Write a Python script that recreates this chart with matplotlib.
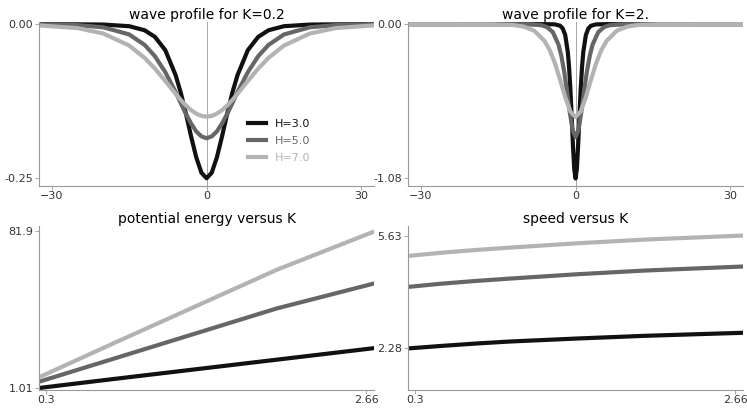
import matplotlib
matplotlib.use("Agg")
import matplotlib.pyplot as plt
import numpy as np

colors = ["#111111", "#666666", "#b3b3b3"]
labels = ["H=3.0", "H=5.0", "H=7.0"]

# K=0.2 half profiles (x>=0), mirrored
xa = [0, 1, 2, 3, 4, 5, 6, 8, 10, 12, 15, 20, 25, 33]
ya_black = [-0.25, -0.241, -0.216, -0.182, -0.145, -0.111, -0.0825, -0.042, -0.0205, -0.0097, -0.0031, -0.00045, -0.0001, 0]
ya_gray = [-0.185, -0.182, -0.174, -0.161, -0.1455, -0.128, -0.110, -0.0777, -0.0519, -0.0335, -0.0165, -0.0049, -0.0014, -0.0002]
ya_light = [-0.15, -0.1488, -0.1451, -0.1394, -0.1317, -0.1228, -0.113, -0.0921, -0.072, -0.0546, -0.0345, -0.015, -0.0062, -0.0015]

# K=2 half profiles
xb_black = [0, .25, .5, .75, 1, 1.25, 1.5, 2, 2.5, 3, 4, 6, 33]
yb_black = [-1.08, -1.015, -0.849, -0.645, -0.454, -0.303, -0.195, -0.076, -0.029, -0.011, -0.0014, 0, 0]
xb_gray = [0, .55, 1.1, 1.65, 2.2, 2.75, 3.3, 4.4, 5.5, 6.6, 8.8, 13.2, 33]
yb_gray = [-0.79, -0.743, -0.621, -0.472, -0.332, -0.222, -0.143, -0.056, -0.021, -0.0078, -0.0011, 0, 0]
xb_light = [0, 1, 2, 3, 4, 5, 6, 8, 10, 12, 16, 24, 33]
yb_light = [-0.65, -0.611, -0.511, -0.388, -0.273, -0.182, -0.118, -0.046, -0.0173, -0.0064, -0.0009, 0, 0]

K_pe = [0.27, 0.8, 1.4, 2.0, 2.72]
pe_black = [1.01, 5.5, 10.5, 15.5, 21.5]
pe_gray = [4.5, 16, 29, 42, 55]
pe_light = [7, 24, 43, 62, 81.9]

K_sp = [0.27, 0.5, 0.75, 1.0, 1.5, 2.0, 2.72]
sp_black = [2.28, 2.35, 2.42, 2.48, 2.57, 2.65, 2.74]
sp_gray = [4.11, 4.20, 4.28, 4.35, 4.48, 4.59, 4.71]
sp_light = [5.03, 5.12, 5.20, 5.27, 5.40, 5.51, 5.63]

def mirror(x, y):
    x = np.asarray(x, float); y = np.asarray(y, float)
    return np.concatenate([-x[::-1], x[1:]]), np.concatenate([y[::-1], y[1:]])

fig, axs = plt.subplots(2, 2, figsize=(7.47, 4.08), dpi=100)
fig.subplots_adjust(left=0.052, right=0.995, top=0.945, bottom=0.045, wspace=0.1, hspace=0.25)

def style(ax):
    for s in ["top", "right"]:
        ax.spines[s].set_visible(False)
    for s in ["left", "bottom"]:
        ax.spines[s].set_color("#999999")
        ax.spines[s].set_linewidth(0.8)
    ax.tick_params(labelsize=8, colors="#333333", length=3, width=0.6, color="#999999", pad=1)

lw = 3
ax = axs[0, 0]
for (y, c, l) in zip([ya_black, ya_gray, ya_light], colors, labels):
    xx, yy = mirror(xa, y)
    ax.plot(xx, yy, color=c, lw=lw, label=l)
ax.axvline(0, color="#999999", lw=0.6, zorder=0)
ax.set_xlim(-32.5, 32.5); ax.set_ylim(-0.262, 0.003)
ax.set_xticks([-30, 0, 30]); ax.set_yticks([-0.25, 0.0]); ax.set_yticklabels(["-0.25", "0.00"])
ax.set_title("wave profile for K=0.2", fontsize=10, pad=2)
leg = ax.legend(loc="lower right", bbox_to_anchor=(0.84, 0.08), frameon=False, fontsize=8, handlelength=1.6, labelspacing=0.6)
for t, c in zip(leg.get_texts(), colors):
    t.set_color(c)
style(ax)

ax = axs[0, 1]
for (x, y, c) in zip([xb_black, xb_gray, xb_light], [yb_black, yb_gray, yb_light], colors):
    xx, yy = mirror(x, y)
    ax.plot(xx, yy, color=c, lw=lw)
ax.axvline(0, color="#999999", lw=0.6, zorder=0)
ax.set_xlim(-32.5, 32.5); ax.set_ylim(-1.13, 0.012)
ax.set_xticks([-30, 0, 30]); ax.set_yticks([-1.08, 0.0]); ax.set_yticklabels(["-1.08", "0.00"])
ax.set_title("wave profile for K=2.", fontsize=10, pad=2)
style(ax)

ax = axs[1, 0]
for y, c in zip([pe_black, pe_gray, pe_light], colors):
    ax.plot(K_pe, y, color=c, lw=lw)
ax.set_xlim(0.25, 2.72); ax.set_ylim(0.0, 84.5)
ax.set_xticks([0.3, 2.66]); ax.set_xticklabels(["0.3", "2.66"])
ax.set_yticks([1.01, 81.9]); ax.set_yticklabels(["1.01", "81.9"])
ax.set_title("potential energy versus K", fontsize=10, pad=2)
style(ax)

ax = axs[1, 1]
for y, c in zip([sp_black, sp_gray, sp_light], colors):
    ax.plot(K_sp, y, color=c, lw=lw)
ax.set_xlim(0.25, 2.72); ax.set_ylim(1.05, 5.9)
ax.set_xticks([0.3, 2.66]); ax.set_xticklabels(["0.3", "2.66"])
ax.set_yticks([2.28, 5.63]); ax.set_yticklabels(["2.28", "5.63"])
ax.set_title("speed versus K", fontsize=10, pad=2)
style(ax)

fig.savefig("out.png", dpi=100)
